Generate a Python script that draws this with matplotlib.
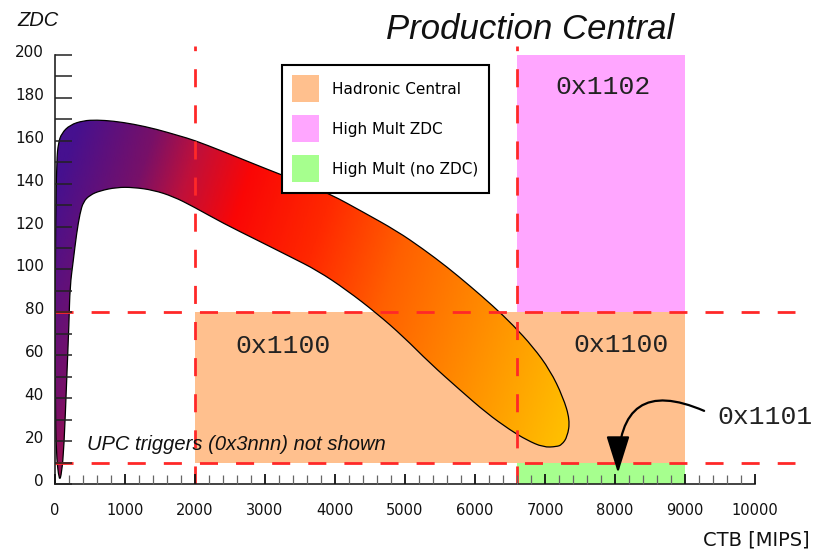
import numpy as np
import matplotlib
matplotlib.use('Agg')
import matplotlib.pyplot as plt
import matplotlib.patches as patches
from matplotlib.path import Path
from matplotlib.colors import LinearSegmentedColormap
from matplotlib.transforms import ScaledTranslation

# trigger cuts (CTB in MIPS, ZDC in ADC)
ctb_cut_lo = 2000
ctb_cut_hi = 6600
ctb_cut_max = 9000
zdc_cut_lo = 10
zdc_cut_hi = 80
zdc_cut_max = 200
cut_line_end = 10570

# regions: (x0, x1, y0, y1)
hadronic_box = (ctb_cut_lo, ctb_cut_max, zdc_cut_lo, zdc_cut_hi)
highzdc_box = (ctb_cut_hi, ctb_cut_max, zdc_cut_hi, zdc_cut_max)
nozdc_box = (ctb_cut_hi, ctb_cut_max, 0, zdc_cut_lo)

legend_labels = ['Hadronic Central', 'High Mult ZDC', 'High Mult (no ZDC)']
legend_colors = ['#FFC08E', '#FFA6FF', '#A6FF8E']

# ZDC vs CTB correlation band (outline, clockwise from the bottom tip)
band_ctb = [60, 15, 5, 3, 8, 24, 48, 95, 214, 405, 595, 833, 1119, 1452,
            1786, 1976, 2405, 2881, 3214, 3570, 3929, 4400, 4886, 5257,
            5600, 5929, 6257, 6543, 6829, 7071, 7257, 7357, 7320, 7240,
            7167, 6976, 6738, 6500, 6167, 5786, 5357, 4976, 4595, 4167,
            3750, 3357, 2881, 2405, 1976, 1690, 1405, 1119, 881, 643, 500,
            405, 357, 309, 262, 214, 200, 167, 129, 95]
band_zdc = [1, 15, 40, 80, 120, 151, 159, 163.5, 167.4, 169.4, 169.7, 169.2,
            167.8, 165.4, 162.2, 160.4, 155, 148.7, 144.4, 139.9, 135.2, 126.8,
            117.9, 109.6, 101.2, 92.3, 83.0, 74.1, 63.9, 53.1, 40.6, 29.8, 22,
            18.3, 17.4, 17.1, 20.5, 25.2, 33, 43.8, 56.3, 68.7, 79.6, 90.4,
            99.5, 106, 113.8, 121.5, 129.3, 134, 137, 138.3, 138.3, 136.7,
            134.7, 131.6, 126.2, 116.9, 104.4, 92, 75, 48.5, 17.4, 5]

x_major = [0, 1000, 2000, 3000, 4000, 5000, 6000, 7000, 8000, 9000, 10000]
y_major = [0, 20, 40, 60, 80, 100, 120, 140, 160, 180, 200]

cut_red = '#FF2828'
text_col = '#111111'


def smooth_closed(xs, ys):
    # quadratic b-spline style closed path through the outline
    pts = np.column_stack([xs, ys]).astype(float)
    n = len(pts)
    mids = [(pts[i] + pts[(i + 1) % n]) / 2 for i in range(n)]
    verts = [mids[-1]]
    codes = [Path.MOVETO]
    for i in range(n):
        verts += [pts[i], mids[i]]
        codes += [Path.CURVE3, Path.CURVE3]
    verts.append(verts[0])
    codes.append(Path.CLOSEPOLY)
    return Path(verts, codes)


fig = plt.figure(figsize=(8.23, 5.49), dpi=100)
ax = fig.add_axes([55/823, 65/549, 742/823, 437.6/549])

# trigger regions
for box, col in zip([hadronic_box, highzdc_box, nozdc_box], legend_colors):
    x0, x1, y0, y1 = box
    ax.add_patch(patches.Rectangle((x0, y0), x1 - x0, y1 - y0,
                                   facecolor=col, edgecolor='none', zorder=1))

# band with colour gradient
band_path = smooth_closed(band_ctb, band_zdc)
band = patches.PathPatch(band_path, facecolor='none', edgecolor='black',
                         lw=0.9, zorder=1.6)
ax.add_patch(band)
gx, gy = np.meshgrid(np.linspace(0, 7500, 400), np.linspace(0, 175, 300))
# gradient runs diagonally in screen space
s = 55 + 0.07*gx + 0.35*(484 - 2.145*gy)
cmap = LinearSegmentedColormap.from_list('band', [
    (0.0, '#46108F'), ((200-120)/600, '#781068'), ((250-120)/600, '#C0103A'),
    ((310-120)/600, '#FA0606'), ((400-120)/600, '#FF2800'),
    ((490-120)/600, '#FF6000'), ((610-120)/600, '#FF9200'),
    (1.0, '#FFC000')])
im = ax.imshow(s, extent=(0, 7500, 0, 175), origin='lower', aspect='auto',
               cmap=cmap, vmin=120, vmax=720, interpolation='bilinear',
               zorder=1.5)
im.set_clip_path(band)

# cut lines
for yv in [zdc_cut_lo, zdc_cut_hi]:
    ax.plot([0, cut_line_end], [yv, yv], color=cut_red, lw=2,
            dashes=(6.5, 6.5), zorder=3)
for xv in [ctb_cut_lo, ctb_cut_hi]:
    ax.plot([xv, xv], [0, 204], color=cut_red, lw=2,
            dashes=(6.5, 6.5), zorder=3)

ax.set_xlim(0, 10600)
ax.set_ylim(0, 204)

# axes styling
for side in ['top', 'right']:
    ax.spines[side].set_visible(False)
ax.spines['left'].set_bounds(0, 200)
ax.spines['bottom'].set_bounds(0, 10000)
for side in ['left', 'bottom']:
    ax.spines[side].set_linewidth(1.2)
    ax.spines[side].set_color('#222222')
    ax.spines[side].set_zorder(4)

ax.set_xticks(x_major)
ax.set_xticks(np.arange(0, 10001, 200), minor=True)
ax.set_yticks(y_major)
ax.set_yticks(np.arange(0, 201, 10), minor=True)
ax.tick_params(axis='y', which='both', direction='in', length=12, width=1.1,
               color='#222222', pad=8, labelsize=11, labelcolor=text_col)
ax.tick_params(axis='x', which='major', direction='in', length=7.5, width=1.3,
               color='#111111', pad=13.5, labelsize=10.5, labelcolor=text_col)
ax.tick_params(axis='x', which='minor', direction='in', length=6.5, width=0.9,
               color='#666666')
ax.xaxis.set_zorder(4)
ax.yaxis.set_zorder(4)
for lab in ax.get_yticklabels():
    lab.set_transform(lab.get_transform() +
                      ScaledTranslation(0, 0.04, fig.dpi_scale_trans))

# region labels
mono = dict(family='Liberation Mono', fontsize=19, color='#222222',
            va='baseline', zorder=4)
ax.text(2571, 61, '0x1100', **mono)
ax.text(7400, 61.5, '0x1100', **mono)
ax.text(7143, 181.8, '0x1102', **mono)
ax.annotate('0x1101', xy=(8043, 5.1), xytext=(9457, 28), ha='left',
            arrowprops=dict(arrowstyle='-|>,head_length=1.15,head_width=0.36',
                            connectionstyle='angle3,angleA=153,angleB=90',
                            color='black', lw=1.6, relpos=(0, 0.5),
                            shrinkA=8, shrinkB=0, mutation_scale=20),
            **mono)
ax.text(457, 15.9, 'UPC triggers (0x3nnn) not shown', family='Liberation Sans',
        style='italic', fontsize=14.5, color=text_col, va='baseline', zorder=4)

# legend
handles = [patches.Patch(facecolor=c, edgecolor='none', label=l)
           for l, c in zip(legend_labels, legend_colors)]
leg = ax.legend(handles=handles, loc='upper left',
                bbox_to_anchor=(282/823, 1 - 65/549),
                bbox_transform=fig.transFigure, frameon=True, fancybox=False,
                edgecolor='black', framealpha=1, fontsize=11,
                handlelength=1.75, handleheight=2.34, labelspacing=0.85,
                borderpad=0.68, handletextpad=0.85, borderaxespad=0)
leg.get_frame().set_linewidth(1.5)
leg.set_zorder(5)

# titles
fig.text(530/823, 1 - 39/549, 'Production Central', ha='center',
         va='baseline', fontsize=25, style='italic', family='Liberation Sans',
         color=text_col)
fig.text(17/823, 1 - 26/549, 'ZDC', ha='left', va='baseline', fontsize=14.5,
         style='italic', family='Liberation Sans', color=text_col)
fig.text(810/823, 1 - 546/549, 'CTB [MIPS]', ha='right', va='baseline',
         fontsize=14, color=text_col)

fig.savefig('out.png', dpi=100)
